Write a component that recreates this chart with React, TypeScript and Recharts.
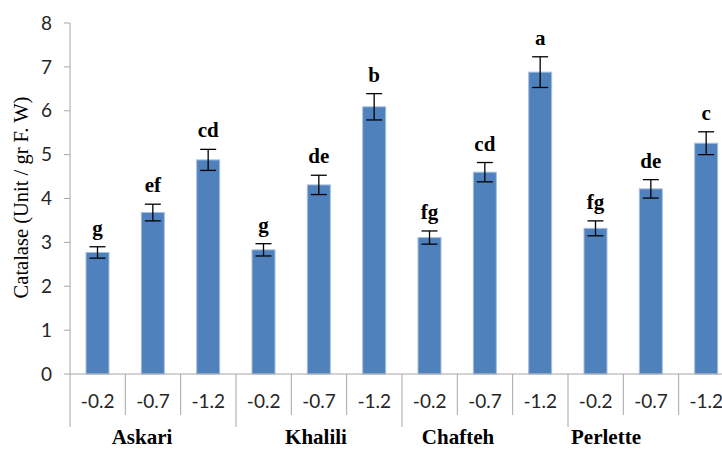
import React from 'react';
import { BarChart, Bar, XAxis, YAxis, ErrorBar } from 'recharts';

// Catalase activity by cultivar and water potential (MPa)
const cultivars = ['Askari', 'Khalili', 'Chafteh', 'Perlette'];
const potentials = ['-0.2', '-0.7', '-1.2'];
const catalase = [2.77, 3.68, 4.88, 2.83, 4.31, 6.09, 3.11, 4.6, 6.88, 3.32, 4.22, 5.26];
const stdErr = [0.13, 0.19, 0.24, 0.14, 0.22, 0.3, 0.15, 0.22, 0.35, 0.17, 0.21, 0.26];
const letters = ['g', 'ef', 'cd', 'g', 'de', 'b', 'fg', 'cd', 'a', 'fg', 'de', 'c'];
const yTicks = [0, 1, 2, 3, 4, 5, 6, 7, 8];

// group label nudges (Excel placed them off-centre)
const GROUP_SHIFT = [-11, -3, -27, -45];

const CHART_W = 734;
const CHART_H = 450;
const Y_AXIS_W = 70;
const AXIS_COLOR = '#A6A6A6';
const BAR_FILL = '#4F81BD';
const TICK_FONT = 'Lato, "Liberation Sans", sans-serif';
const SERIF = '"Liberation Serif", "Times New Roman", serif';

const data = catalase.map((v, i) => ({
  name: `${cultivars[Math.floor(i / 3)]} ${potentials[i % 3]}`,
  label: potentials[i % 3],
  group: Math.floor(i / 3),
  value: v,
  err: stdErr[i],
  letter: letters[i],
}));

const band = (CHART_W - Y_AXIS_W) / data.length;

const BarWithLetter = (props: any) => {
  const { x, y, width, height, payload } = props;
  const pxPerUnit = height / payload.value;
  const errTop = y - payload.err * pxPerUnit;
  return (
    <g>
      <rect x={x} y={y} width={width} height={height} fill={BAR_FILL} stroke="#A7BFDE" strokeWidth={1} />
      <text
        x={x + width / 2}
        y={errTop - 12}
        textAnchor="middle"
        fontFamily={SERIF}
        fontWeight="bold"
        fontSize={21}
        fill="#000"
      >
        {payload.letter}
      </text>
    </g>
  );
};

const CategoryTick = (props: any) => {
  const { x, y, payload } = props;
  const i = payload.index;
  const d = data[i];
  const left = x - band / 2;
  return (
    <g>
      <line x1={left} y1={y} x2={left} y2={y + (i % 3 === 0 ? 53 : 41)} stroke={AXIS_COLOR} strokeWidth={1} />
      <text x={x} y={y + 34} textAnchor="middle" fontFamily={TICK_FONT} fontSize={19} fill="#262626">
        {d.label}
      </text>
      {i % 3 === 1 && (
        <text
          x={x + GROUP_SHIFT[d.group]}
          y={y + 70}
          textAnchor="middle"
          fontFamily={SERIF}
          fontWeight="bold"
          fontSize={21}
          fill="#000"
        >
          {cultivars[d.group]}
        </text>
      )}
    </g>
  );
};

const YTitle = (props: any) => {
  const { viewBox } = props;
  const cx = viewBox.x + 21;
  const cy = viewBox.y + viewBox.height / 2 - 1;
  return (
    <text
      x={cx}
      y={cy}
      transform={`rotate(-90, ${cx}, ${cy})`}
      textAnchor="middle"
      dominantBaseline="central"
      fontFamily={SERIF}
      fontSize={20.5}
      fill="#000"
    >
      Catalase (Unit / gr F. W)
    </text>
  );
};

export default function App() {
  return (
    <div style={{ position: 'absolute', left: 0, top: 0, width: 722, height: 450, overflow: 'hidden', background: '#fff' }}>
      <BarChart width={CHART_W} height={CHART_H} data={data} margin={{ top: 23, right: 0, bottom: 0, left: 0 }}>
        <XAxis
          dataKey="name"
          height={CHART_H - 374}
          interval={0}
          tickLine={false}
          tickSize={0}
          tickMargin={0}
          axisLine={{ stroke: AXIS_COLOR, strokeWidth: 1 }}
          tick={<CategoryTick />}
        />
        <YAxis
          width={Y_AXIS_W}
          domain={[0, 8]}
          ticks={yTicks}
          interval={0}
          tickSize={6}
          tickMargin={12}
          axisLine={{ stroke: AXIS_COLOR, strokeWidth: 1 }}
          tickLine={{ stroke: AXIS_COLOR }}
          tick={{ fontFamily: TICK_FONT, fontSize: 19, fill: '#262626' }}
          label={<YTitle />}
        />
        <Bar dataKey="value" barSize={23} fill={BAR_FILL} shape={<BarWithLetter />} isAnimationActive={false}>
          <ErrorBar dataKey="err" width={8} stroke="#000" strokeWidth={1.3} direction="y" />
        </Bar>
      </BarChart>
    </div>
  );
}
